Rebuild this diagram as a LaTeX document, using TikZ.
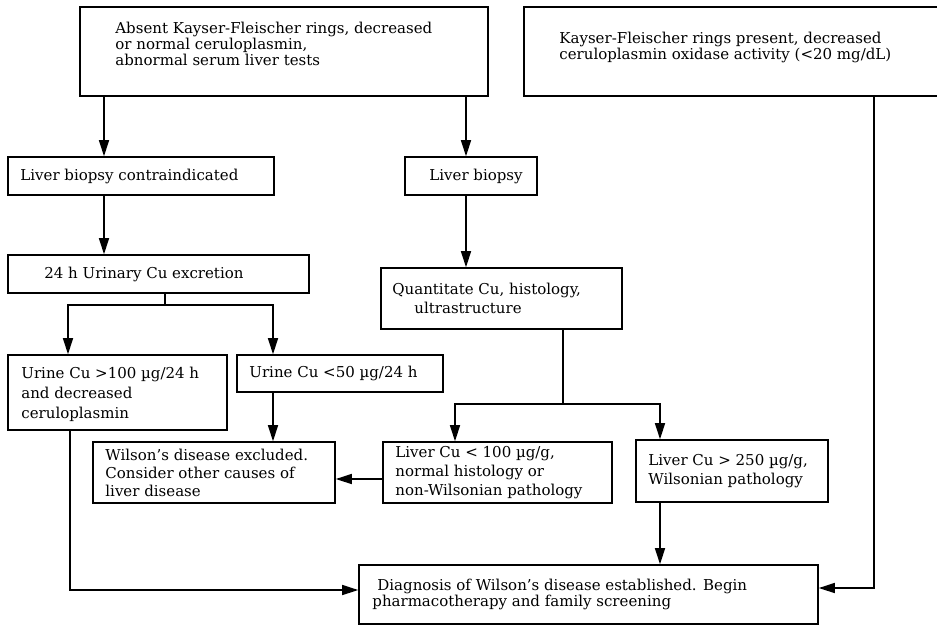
\documentclass[tikz,border=0pt]{standalone}
\usepackage{fontspec}
\setmainfont{DejaVu Serif}
\usetikzlibrary{arrows.meta}

\tikzset{
	box/.style={draw=black, line width=1.6pt, inner sep=0pt},
	boxtext/.style={inner sep=0pt, align=left, anchor=west, font=\fontsize{15}{19}\selectfont},
	flow/.style={line width=1.6pt, -{Triangle[length=16pt,width=10pt]}},
	wire/.style={line width=1.6pt},
}

\begin{document}
\begin{tikzpicture}[x=1pt, y=-1pt]
	
	\useasboundingbox (0,0) rectangle (937,625);
	
	% Hallazgos iniciales
	\draw (284,51.5) node[box, minimum width=408, minimum height=89] (absent) {};
	\node[boxtext, font=\fontsize{15}{16.3}\selectfont, yshift=7.5] (absent-t) at ([xshift=36]absent.west)
	{Absent Kayser-Fleischer rings, decreased\\or normal ceruloplasmin,\\abnormal serum liver tests};
	
	\draw (732,51.5) node[box, minimum width=416, minimum height=89] (present) {};
	\node[boxtext, font=\fontsize{15}{16.3}\selectfont, yshift=4] (present-t) at ([xshift=36]present.west)
	{Kayser-Fleischer rings present, decreased\\ceruloplasmin oxidase activity (<20 mg/dL)};
	
	% Biopsia
	\draw (141,176) node[box, minimum width=266, minimum height=38] (contra) {};
	\node[boxtext] (contra-t) at ([xshift=13]contra.west) {Liver biopsy contraindicated};
	
	\draw (471,176) node[box, minimum width=132, minimum height=38] (biopsy) {};
	\node[boxtext] (biopsy-t) at ([xshift=25]biopsy.west) {Liver biopsy};
	
	% Cobre urinario
	\draw (158.5,274) node[box, minimum width=301, minimum height=38] (urinary) {};
	\node[boxtext] (urinary-t) at ([xshift=37]urinary.west) {24 h Urinary Cu excretion};
	
	\draw (117.5,392.5) node[box, minimum width=219, minimum height=75] (high) {};
	\node[boxtext, font=\fontsize{15}{20}\selectfont, yshift=-2] (high-t) at ([xshift=14]high.west)
	{Urine Cu >100 µg/24 h\\and decreased\\ceruloplasmin};
	
	\draw (340,373.5) node[box, minimum width=206, minimum height=37] (low) {};
	\node[boxtext] (low-t) at ([xshift=13]low.west) {Urine Cu <50 µg/24 h};
	
	% Cobre hepatico
	\draw (501.5,298.5) node[box, minimum width=241, minimum height=61] (quant) {};
	\node[boxtext] (quant-t) at ([xshift=12]quant.west)
	{Quantitate Cu, histology,\\\hspace*{22pt}ultrastructure};
	
	\draw (214,472.5) node[box, minimum width=242, minimum height=61] (excl) {};
	\node[boxtext, font=\fontsize{15}{18}\selectfont] (excl-t) at ([xshift=13]excl.west)
	{Wilson's disease excluded.\\Consider other causes of\\liver disease};
	
	\draw (497.5,472.5) node[box, minimum width=229, minimum height=61] (lowcu) {};
	\node[boxtext] (lowcu-t) at ([xshift=13]lowcu.west)
	{Liver Cu < 100 µg/g,\\normal histology or\\non-Wilsonian pathology};
	
	\draw (732,471) node[box, minimum width=192, minimum height=62] (highcu) {};
	\node[boxtext] (highcu-t) at ([xshift=13]highcu.west)
	{Liver Cu > 250 µg/g,\\Wilsonian pathology};
	
	% Diagnostico
	\draw (588.5,594.5) node[box, minimum width=459, minimum height=59] (diag) {};
	\node[boxtext, font=\fontsize{15}{16.3}\selectfont] (diag-t) at ([xshift=14]diag.west)
	{\hspace*{5pt}Diagnosis of Wilson's disease established. Begin\\pharmacotherapy and family screening};
	
	
	% Flechas
	\draw[flow] (absent.south -| 104,0) -- (contra.north -| 104,0);
	\draw[flow] (absent.south -| 466,0) -- (biopsy.north -| 466,0);
	\draw[flow] (contra.south -| 104,0) -- (urinary.north -| 104,0);
	\draw[flow] (biopsy.south -| 466,0) -- (quant.north -| 466,0);
	
	\coordinate (usplit) at (165,305);
	\draw[wire] (urinary.south -| usplit) -- (usplit);
	\draw[flow] (usplit) -| (high.north -| 68,0);
	\draw[flow] (usplit) -| (low.north -| 273,0);
	\draw[flow] (low.south -| 273,0) -- (excl.north -| 273,0);
	
	\coordinate (qsplit) at (563,404);
	\draw[wire] (quant.south -| qsplit) -- (qsplit);
	\draw[flow] (qsplit) -| (lowcu.north -| 455,0);
	\draw[flow] (qsplit) -| (highcu.north -| 660,0);
	
	\draw[flow] (lowcu.west |- 0,479) -- (excl.east |- 0,479);
	\draw[flow] (highcu.south -| 660,0) -- (diag.north -| 660,0);
	\draw[flow] (high.south -| 70,0) |- (diag.west |- 0,590);
	\draw[flow] (present.south -| 874,0) |- (diag.east |- 0,588);
	
\end{tikzpicture}
\end{document}
